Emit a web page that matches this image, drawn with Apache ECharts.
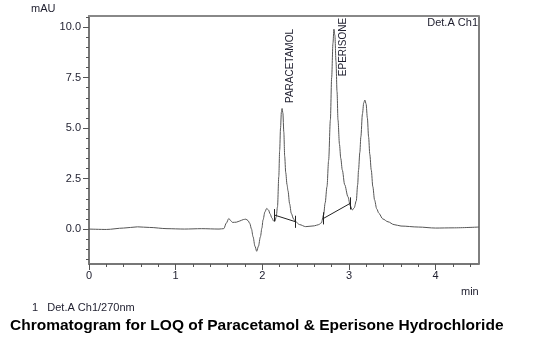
<!DOCTYPE html>
<html>
<head>
<meta charset="utf-8">
<script src="https://cdn.jsdelivr.net/npm/echarts@6/dist/echarts.min.js"></script>
<style>
html,body{margin:0;padding:0;background:#fff;}
#chart{width:536px;height:352px;}
</style>
</head>
<body>
<div id="chart"></div>
<script>
// retention time (min) and absorbance (mAU)
var times = [0, 0.2, 0.4, 0.56, 0.7, 0.9, 1.1, 1.3, 1.5, 1.555, 1.585, 1.613, 1.635, 1.655, 1.70, 1.74, 1.78, 1.81,
    1.835, 1.855, 1.875, 1.893, 1.915, 1.935, 1.955, 1.978, 1.995, 2.008, 2.03, 2.05, 2.07, 2.09, 2.11, 2.13, 2.145,
    2.16, 2.175, 2.19, 2.20, 2.21, 2.22, 2.228, 2.237, 2.248, 2.258, 2.27, 2.285, 2.296, 2.315, 2.334, 2.36, 2.385,
    2.43, 2.5, 2.6, 2.65, 2.68, 2.707, 2.725, 2.746, 2.765, 2.785, 2.80, 2.815, 2.826, 2.837, 2.85, 2.862, 2.873,
    2.89, 2.905, 2.923, 2.95, 2.988, 3.015, 3.038, 3.06, 3.084, 3.10, 3.11, 3.125, 3.137, 3.155, 3.17, 3.183, 3.197,
    3.212, 3.226, 3.24, 3.257, 3.275, 3.295, 3.32, 3.345, 3.39, 3.45, 3.52, 3.6, 3.8, 4.0, 4.2, 4.5];
var mAU = [0, -0.02, 0.05, 0.11, 0.08, 0.02, 0, 0.02, 0, 0.02, 0.3, 0.52, 0.42, 0.33, 0.34, 0.40, 0.47, 0.49,
    0.42, 0.28, 0, -0.38, -0.85, -1.1, -0.85, -0.38, 0.05, 0.45, 0.85, 1.02, 0.95, 0.75, 0.55, 0.4, 0.38,
    0.6, 1.1, 2.6, 3.9, 5.0, 5.8, 5.97, 5.75, 4.8, 3.6, 2.8, 2.2, 1.9, 1.25, 0.78, 0.5, 0.36,
    0.22, 0.12, 0.16, 0.22, 0.3, 0.7, 1.3, 2.1, 3.4, 5.4, 7.5, 9.2, 9.9, 9.6, 8.3, 6.8, 5.4,
    4.2, 3.5, 2.92, 2.2, 1.6, 1.15, 0.94, 1.05, 1.4, 2.2, 2.92, 3.8, 4.57, 5.7, 6.25, 6.39, 6.2,
    5.5, 4.57, 3.7, 2.92, 2.1, 1.44, 1.0, 0.78, 0.5, 0.36, 0.22, 0.15, 0.1, 0.05, 0.06, 0.1];

var yMajor = [0, 2.5, 5, 7.5, 10];
var yMinor = [-1.5, -1, -0.5, 0.5, 1, 1.5, 2, 3, 3.5, 4, 4.5, 5.5, 6, 6.5, 7, 8, 8.5, 9, 9.5, 10.5];
var xMajor = [0, 1, 2, 3, 4];
var xMinor = [0.2, 0.4, 0.6, 0.8, 1.2, 1.4, 1.6, 1.8, 2.2, 2.4, 2.6, 2.8, 3.2, 3.4, 3.6, 3.8, 4.2, 4.4];

// integration baselines: [start, end] as [min, mAU]
var baselines = [[[2.143, 0.69], [2.385, 0.36]], [[2.707, 0.53], [3.013, 1.27]]];

var yMin = -1.73, yMax = 10.55, xMin = 0, xMax = 4.5;

var points = [];
for (var i = 0; i < times.length; i++) points.push([times[i], mAU[i]]);

var lineData = [];
var tickData = [];
baselines.forEach(function (b) {
    lineData.push([{coord: b[0]}, {coord: b[1]}]);
    b.forEach(function (p) {
        tickData.push([{coord: [p[0], p[1] - 0.3]}, {coord: [p[0], p[1] + 0.3]}]);
    });
});

var txt = '#1e1e2e';
var font = 'Liberation Sans, Arial, sans-serif';

var myChart = echarts.init(document.getElementById('chart'));
var option = {
    animation: false,
    grid: {left: 89, top: 16, right: 57, bottom: 88, show: true, borderColor: '#000', borderWidth: 1},
    xAxis: [
        {
            type: 'value', min: xMin, max: xMax, position: 'bottom',
            axisLine: {onZero: false, lineStyle: {color: '#777', width: 2}},
            axisTick: {length: 6, lineStyle: {color: '#555'}, customValues: xMajor},
            axisLabel: {customValues: xMajor, color: txt, fontSize: 11, fontFamily: font, margin: 6},
            splitLine: {show: false}
        },
        {
            type: 'value', min: xMin, max: xMax, position: 'bottom',
            axisLine: {show: false, onZero: false},
            axisTick: {length: 3, lineStyle: {color: '#555'}, customValues: xMinor},
            axisLabel: {show: false},
            splitLine: {show: false}
        },
        {
            type: 'value', min: xMin, max: xMax, position: 'top',
            axisLine: {onZero: false, lineStyle: {color: '#888', width: 2}},
            axisTick: {show: false}, axisLabel: {show: false}, splitLine: {show: false}
        }
    ],
    yAxis: [
        {
            type: 'value', min: yMin, max: yMax, position: 'left',
            axisLine: {show: true, onZero: false, lineStyle: {color: '#777', width: 2}},
            axisTick: {show: true, length: 6, lineStyle: {color: '#555'}, customValues: yMajor},
            axisLabel: {customValues: yMajor, color: txt, fontSize: 11, fontFamily: font, margin: 8,
                formatter: function (v) { return v.toFixed(1); }},
            splitLine: {show: false}
        },
        {
            type: 'value', min: yMin, max: yMax, position: 'left',
            axisLine: {show: false, onZero: false},
            axisTick: {show: true, length: 3, lineStyle: {color: '#555'}, customValues: yMinor},
            axisLabel: {show: false},
            splitLine: {show: false}
        }
    ],
    series: [{
        type: 'line',
        data: points,
        showSymbol: false,
        smooth: 0.3,
        smoothMonotone: 'x',
        lineStyle: {color: '#555', width: 1},
        markLine: {
            silent: true,
            symbol: ['none', 'none'],
            label: {show: false},
            lineStyle: {color: '#222', width: 1, type: 'solid'},
            data: lineData.concat(tickData)
        }
    }],
    graphic: [
        {type: 'text', x: 31, y: 3, style: {text: 'mAU', fill: txt, font: '11px ' + font}},
        {type: 'text', x: 478, y: 17, style: {text: 'Det.A Ch1', fill: txt, font: '11px ' + font, textAlign: 'right'}},
        {type: 'text', x: 461, y: 286, style: {text: 'min', fill: txt, font: '11px ' + font}},
        {type: 'text', x: 32, y: 302, style: {text: '1   Det.A Ch1/270nm', fill: txt, font: '11px ' + font}},
        {type: 'text', x: 290, y: 66, rotation: Math.PI / 2,
            style: {text: 'PARACETAMOL', fill: txt, font: '10px ' + font, textAlign: 'center', textVerticalAlign: 'middle'}},
        {type: 'text', x: 343, y: 47, rotation: Math.PI / 2,
            style: {text: 'EPERISONE', fill: txt, font: '10px ' + font, textAlign: 'center', textVerticalAlign: 'middle'}},
        {type: 'text', x: 10, y: 318,
            style: {text: 'Chromatogram for LOQ of Paracetamol & Eperisone Hydrochloride', fill: '#000',
                font: 'bold 15.5px ' + font}}
    ]
};
myChart.setOption(option);
</script>
</body>
</html>
